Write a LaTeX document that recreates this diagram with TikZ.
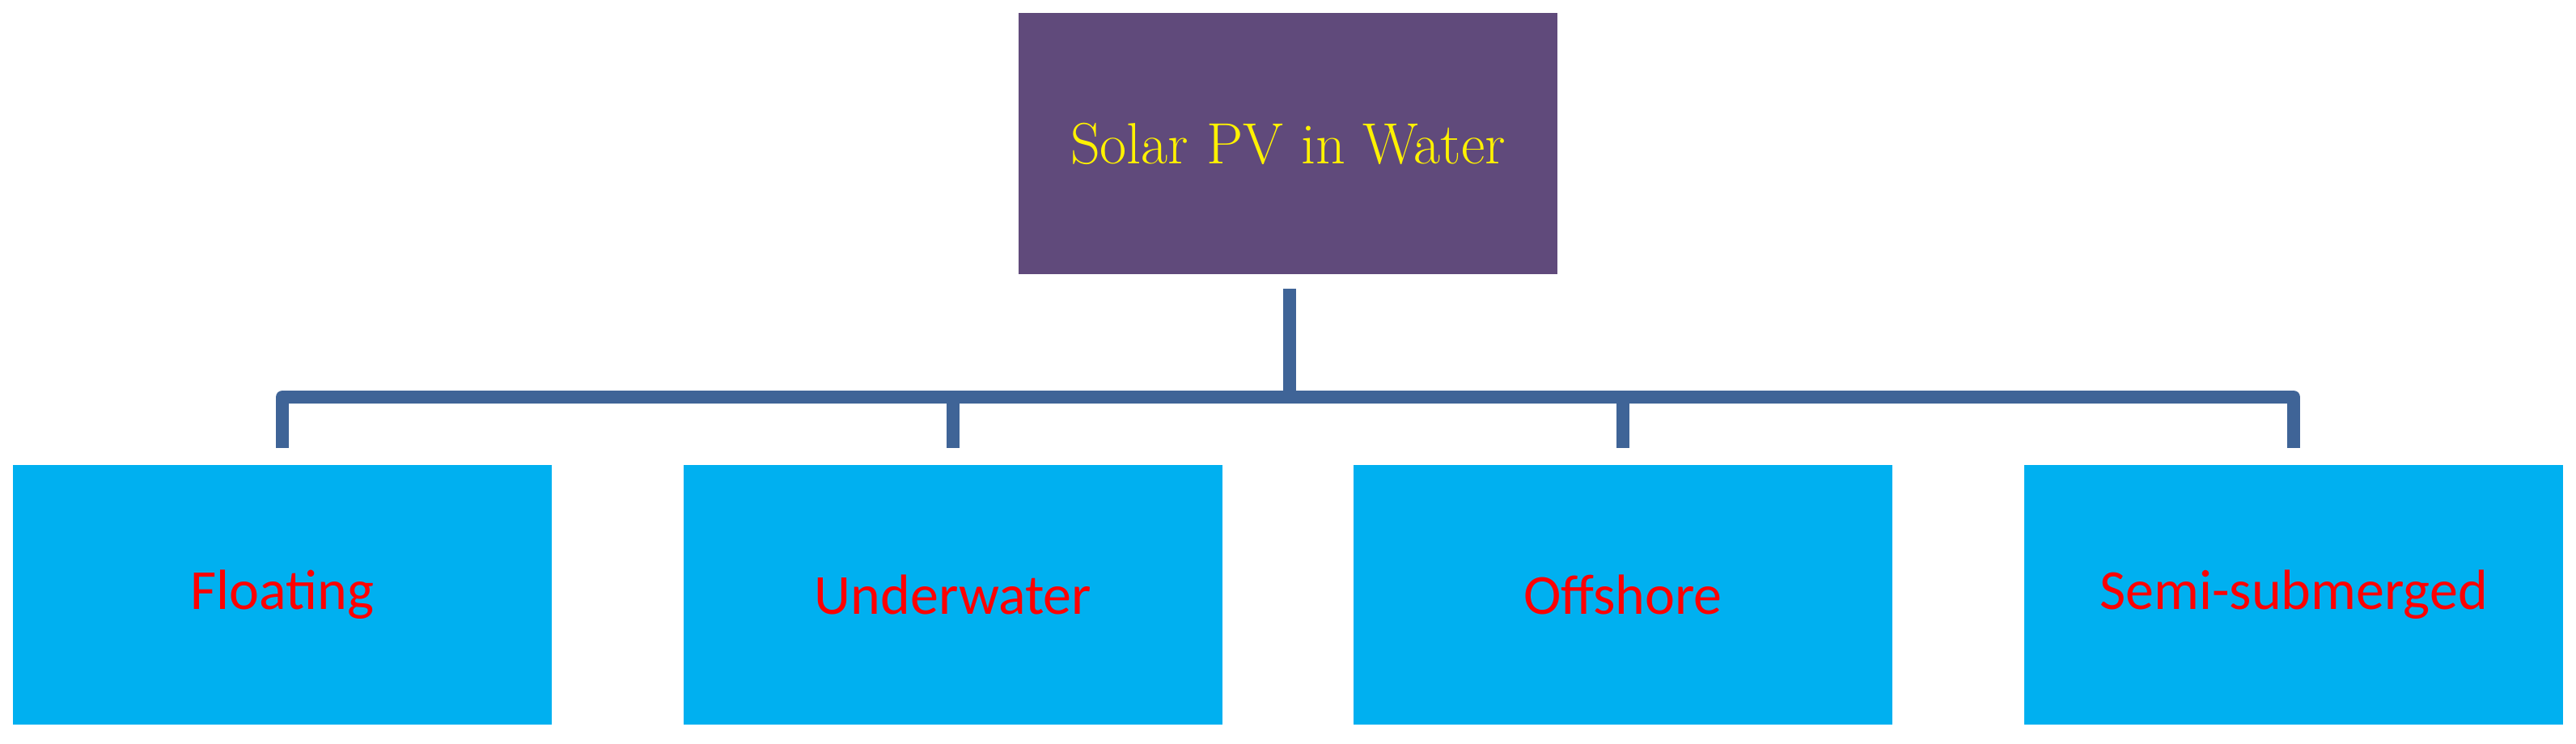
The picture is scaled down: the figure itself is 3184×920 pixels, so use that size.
\documentclass[tikz,border=0pt]{standalone}
\usepackage{fontspec}
\newfontfamily\carl{Carlito}
\definecolor{topc}{HTML}{604A7B}
\definecolor{boxc}{HTML}{00B0F0}
\definecolor{linec}{HTML}{3F6497}
\begin{document}
\begin{tikzpicture}[x=1pt,y=-1pt,
  top/.style={fill=topc,draw=none,text=yellow,font=\fontsize{72}{80}\selectfont,minimum width=666pt,minimum height=323pt,inner sep=0},
  leaf/.style={fill=boxc,draw=none,text=red,font=\carl\fontsize{70}{80}\selectfont,minimum width=666pt,minimum height=321pt,inner sep=0},
  conn/.style={draw=linec,line width=16pt,line join=round}]
\useasboundingbox (0,0) rectangle (3184,920);
\node[top] (root) at (1592,177.5) {Solar PV in Water};
\node[leaf] (a) at (349,735.5) {Floating};
\node[leaf] (b) at (1178,735.5) {Underwater};
\node[leaf] (c) at (2006,735.5) {Offshore};
\node[leaf] (d) at (2835,735.5) {Semi-submerged};
\coordinate (s0) at (1594,357);
\coordinate (s1) at (1594,491);
\draw[conn] (s0) -- (s1);
\coordinate (ha) at (349,491); \coordinate (hd) at (2835,491);
\coordinate (hb) at (1178,491); \coordinate (hc) at (2006,491);
\draw[conn] (349,554) -- (ha) -- (hd) -- (2835,554);
\draw[conn] (hb) -- (1178,554);
\draw[conn] (hc) -- (2006,554);
\end{tikzpicture}
\end{document}
